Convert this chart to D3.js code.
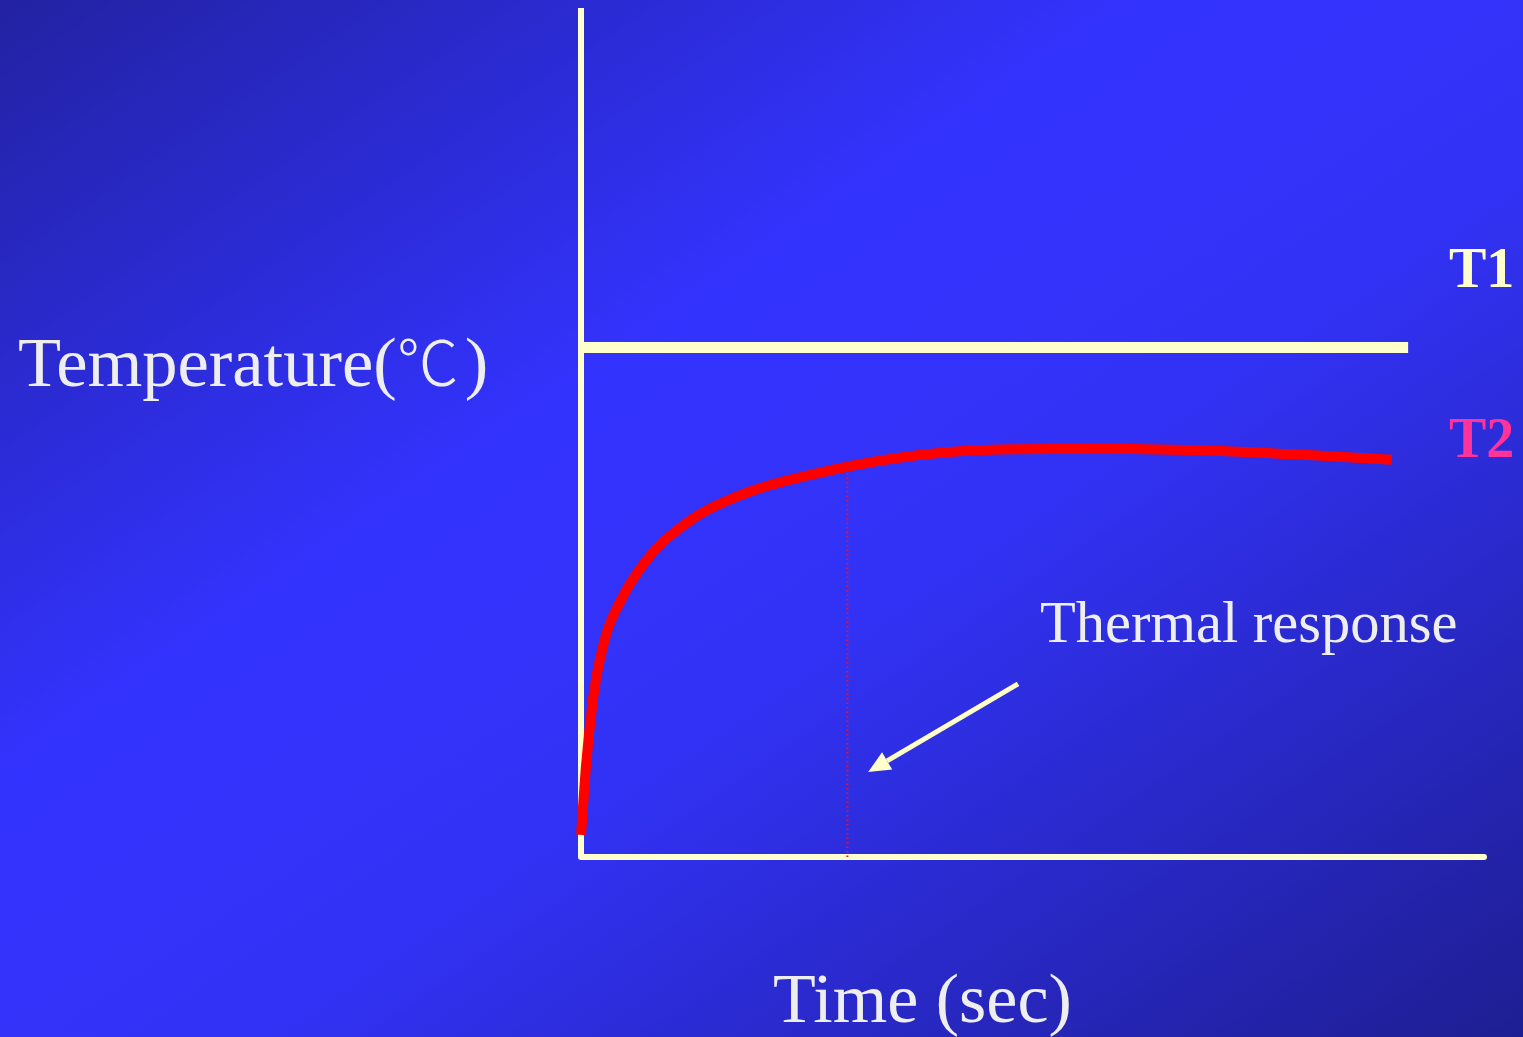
<!DOCTYPE html>
<html>
<head>
<meta charset="utf-8">
<script src="https://cdn.jsdelivr.net/npm/d3@7"></script>
<style>
  html, body { margin: 0; padding: 0; overflow: hidden; }
  svg { display: block; }
</style>
</head>
<body>
<script>
// Data (arbitrary units: time 0-100, temperature 0-100)
const t1Level = 60;
const t1End = 91.6;
const t2Time = [0, 0.5, 1.3, 2.6, 4.4, 7.2, 11.5, 17.6, 25.4, 35, 46.4, 57.5, 68.5, 79.6, 89.8];
const t2Temp = [2.6, 10, 18.4, 25.5, 30.2, 34.9, 39.2, 42.6, 45.0, 47.0, 48.0, 48.1, 47.9, 47.4, 46.8];
const responseTime = 29.5;
const arrowFrom = [48.4, 20.4];
const arrowTo = [31.8, 10.0];

const width = 1523, height = 1037;
const cream = "#ffffcc";

const svg = d3.select("body").append("svg")
  .attr("width", width)
  .attr("height", height);

// background gradient: dark corners top-left / bottom-right, bright band across
const defs = svg.append("defs");
const grad = defs.append("linearGradient")
  .attr("id", "bg")
  .attr("x1", 0).attr("y1", 0).attr("x2", 1).attr("y2", 1);
grad.append("stop").attr("offset", 0).attr("stop-color", "#2222a2");
grad.append("stop").attr("offset", 0.38).attr("stop-color", "#3333ff");
grad.append("stop").attr("offset", 0.58).attr("stop-color", "#3232f6");
grad.append("stop").attr("offset", 1).attr("stop-color", "#1e1e92");

svg.append("rect").attr("width", width).attr("height", height).attr("fill", "url(#bg)");

const x = d3.scaleLinear().domain([0, 100]).range([581, 1484]);
const y = d3.scaleLinear().domain([0, 100]).range([857, 8]);

// axes
svg.append("line")
  .attr("x1", x(0)).attr("x2", x(0))
  .attr("y1", y(100)).attr("y2", y(0))
  .attr("stroke", cream).attr("stroke-width", 6);
svg.append("line")
  .attr("x1", x(0)).attr("x2", x(100))
  .attr("y1", y(0)).attr("y2", y(0))
  .attr("stroke", cream).attr("stroke-width", 6)
  .attr("stroke-linecap", "round");

// T1 level
svg.append("line")
  .attr("x1", x(0)).attr("x2", x(t1End))
  .attr("y1", y(t1Level)).attr("y2", y(t1Level))
  .attr("stroke", cream).attr("stroke-width", 11);

// response time marker
svg.append("line")
  .attr("x1", x(responseTime)).attr("x2", x(responseTime))
  .attr("y1", y(0)).attr("y2", y(45.5))
  .attr("stroke", "#ee1133")
  .attr("stroke-width", 2)
  .attr("stroke-dasharray", "1.5 3");

// T2 curve
const pts = t2Time.map((t, i) => [t, t2Temp[i]]);
const line = d3.line()
  .x(d => x(d[0]))
  .y(d => y(d[1]))
  .curve(d3.curveMonotoneX);
svg.append("path")
  .datum(pts)
  .attr("d", line)
  .attr("fill", "none")
  .attr("stroke", "#ff0000")
  .attr("stroke-width", 10);

// arrow
const ax0 = x(arrowFrom[0]), ay0 = y(arrowFrom[1]);
const ax1 = x(arrowTo[0]), ay1 = y(arrowTo[1]);
const ang = Math.atan2(ay1 - ay0, ax1 - ax0);
const headLen = 22, headW = 10;
const bx = ax1 - headLen * Math.cos(ang), by = ay1 - headLen * Math.sin(ang);
svg.append("line")
  .attr("x1", ax0).attr("y1", ay0)
  .attr("x2", bx).attr("y2", by)
  .attr("stroke", cream).attr("stroke-width", 5);
svg.append("polygon")
  .attr("points", [
    [ax1, ay1],
    [bx + headW * Math.sin(ang), by - headW * Math.cos(ang)],
    [bx - headW * Math.sin(ang), by + headW * Math.cos(ang)]
  ].map(p => p.join(",")).join(" "))
  .attr("fill", cream);

// labels
const serif = "'Liberation Serif', 'Times New Roman', serif";
const tempLabel = svg.append("text")
  .attr("x", 18).attr("y", 386)
  .attr("font-family", serif).attr("font-size", 70.5)
  .attr("fill", "#eeeeee");
tempLabel.append("tspan").text("Temperature(");
tempLabel.append("tspan")
  .attr("font-family", "'Noto Sans CJK SC', sans-serif")
  .attr("font-weight", 300)
  .attr("font-size", 62)
  .text("℃");
tempLabel.append("tspan").attr("dx", 6).text(")");

svg.append("text")
  .attr("x", 773).attr("y", 1022)
  .attr("font-family", serif).attr("font-size", 70)
  .attr("fill", "#eeeeee")
  .text("Time (sec)");

svg.append("text")
  .attr("x", 1040).attr("y", 642)
  .attr("font-family", serif).attr("font-size", 58.5)
  .attr("fill", "#eeeeee")
  .text("Thermal response");

svg.append("text")
  .attr("x", 1449).attr("y", 287)
  .attr("font-family", serif).attr("font-size", 56).attr("font-weight", "bold")
  .attr("fill", cream)
  .text("T1");

svg.append("text")
  .attr("x", 1449).attr("y", 457)
  .attr("font-family", serif).attr("font-size", 56).attr("font-weight", "bold")
  .attr("fill", "#ff3399")
  .text("T2");
</script>
</body>
</html>
